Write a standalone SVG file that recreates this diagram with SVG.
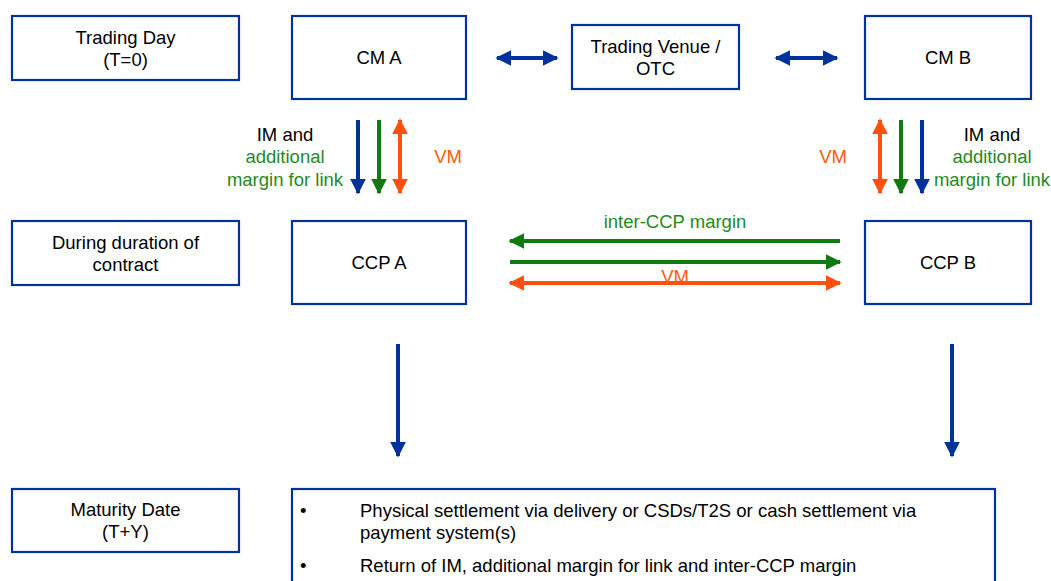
<svg xmlns="http://www.w3.org/2000/svg" width="1051" height="581" viewBox="0 0 1051 581">
<defs>
<style>
.box{fill:#fff;stroke:#003399;stroke-width:2.2}
.t{font-family:"Liberation Sans",Arial,sans-serif;font-size:18.5px;fill:#000;text-anchor:middle}
.g{fill:#1e8a1e}
.o{fill:#ff5a0a}
.l{text-anchor:start}
.bl{stroke:#003399;stroke-width:4;fill:none}
.gr{stroke:#0f7a0f;stroke-width:4;fill:none}
.or{stroke:#ff5010;stroke-width:4;fill:none}
</style>
<marker id="hb" viewBox="0 0 10 10" refX="9" refY="5" markerWidth="4" markerHeight="4" orient="auto-start-reverse" markerUnits="strokeWidth"><path d="M0,0L10,5L0,10z" fill="#003399"/></marker>
<marker id="hg" viewBox="0 0 10 10" refX="9" refY="5" markerWidth="4" markerHeight="4" orient="auto-start-reverse" markerUnits="strokeWidth"><path d="M0,0L10,5L0,10z" fill="#0f7a0f"/></marker>
<marker id="ho" viewBox="0 0 10 10" refX="9" refY="5" markerWidth="4" markerHeight="4" orient="auto-start-reverse" markerUnits="strokeWidth"><path d="M0,0L10,5L0,10z" fill="#ff5010"/></marker>
</defs>
<rect width="1051" height="581" fill="#fff"/>

<g id="trading-day"><rect class="box" x="12" y="16" width="227" height="64"/><text class="t" x="125.5" y="44">Trading Day</text><text class="t" x="125.5" y="66">(T=0)</text></g>
<g id="cm-a"><rect class="box" x="292" y="16" width="174" height="83"/><text class="t" x="379" y="64">CM A</text></g>
<g id="venue"><rect class="box" x="572" y="25" width="167" height="64"/><text class="t" x="655.5" y="53">Trading Venue /</text><text class="t" x="655.5" y="75">OTC</text></g>
<g id="cm-b"><rect class="box" x="865" y="16" width="166" height="83"/><text class="t" x="948" y="64">CM B</text></g>
<g id="during"><rect class="box" x="12" y="221" width="227" height="64"/><text class="t" x="125.5" y="249">During duration of</text><text class="t" x="125.5" y="271">contract</text></g>
<g id="ccp-a"><rect class="box" x="292" y="221" width="174" height="83"/><text class="t" x="379" y="269">CCP A</text></g>
<g id="ccp-b"><rect class="box" x="865" y="221" width="166" height="83"/><text class="t" x="948" y="269">CCP B</text></g>
<g id="maturity"><rect class="box" x="12" y="489" width="227" height="63"/><text class="t" x="125.5" y="516">Maturity Date</text><text class="t" x="125.5" y="538">(T+Y)</text></g>
<g id="settlement"><rect class="box" x="292" y="489" width="703" height="110"/>
<text class="t l" x="300" y="517">•</text><text class="t l" x="360" y="517">Physical settlement via delivery or CSDs/T2S or cash settlement via</text>
<text class="t l" x="360" y="539">payment system(s)</text>
<text class="t l" x="300" y="572">•</text><text class="t l" x="360" y="572">Return of IM, additional margin for link and inter-CCP margin</text></g>

<g id="connectors">
<line class="bl" x1="497" y1="58" x2="557" y2="58" marker-start="url(#hb)" marker-end="url(#hb)"/>
<line class="bl" x1="776" y1="58" x2="837" y2="58" marker-start="url(#hb)" marker-end="url(#hb)"/>
<line class="bl" x1="358" y1="120" x2="358" y2="193" marker-end="url(#hb)"/>
<line class="gr" x1="379" y1="120" x2="379" y2="193" marker-end="url(#hg)"/>
<line class="or" x1="400" y1="120" x2="400" y2="193" marker-start="url(#ho)" marker-end="url(#ho)"/>
<line class="or" x1="880" y1="120" x2="880" y2="193" marker-start="url(#ho)" marker-end="url(#ho)"/>
<line class="gr" x1="901" y1="120" x2="901" y2="193" marker-end="url(#hg)"/>
<line class="bl" x1="922" y1="120" x2="922" y2="193" marker-end="url(#hb)"/>
<line class="gr" x1="840" y1="241" x2="510" y2="241" marker-end="url(#hg)"/>
<line class="gr" x1="510" y1="262" x2="840" y2="262" marker-end="url(#hg)"/>
<line class="or" x1="510" y1="283" x2="840" y2="283" marker-start="url(#ho)" marker-end="url(#ho)"/>
<line class="bl" x1="398" y1="344" x2="398" y2="456" marker-end="url(#hb)"/>
<line class="bl" x1="952" y1="344" x2="952" y2="456" marker-end="url(#hb)"/>
</g>

<g id="labels">
<text class="t" x="285" y="141">IM and</text>
<text class="t g" x="285" y="163">additional</text>
<text class="t g" x="285" y="186">margin for link</text>
<text class="t o" x="448" y="163">VM</text>
<text class="t o" x="833" y="163">VM</text>
<text class="t" x="992" y="141">IM and</text>
<text class="t g" x="992" y="163">additional</text>
<text class="t g" x="992" y="186">margin for link</text>
<text class="t g" x="675" y="228">inter-CCP margin</text>
<text class="t o" x="675" y="283">VM</text>
</g>
</svg>
